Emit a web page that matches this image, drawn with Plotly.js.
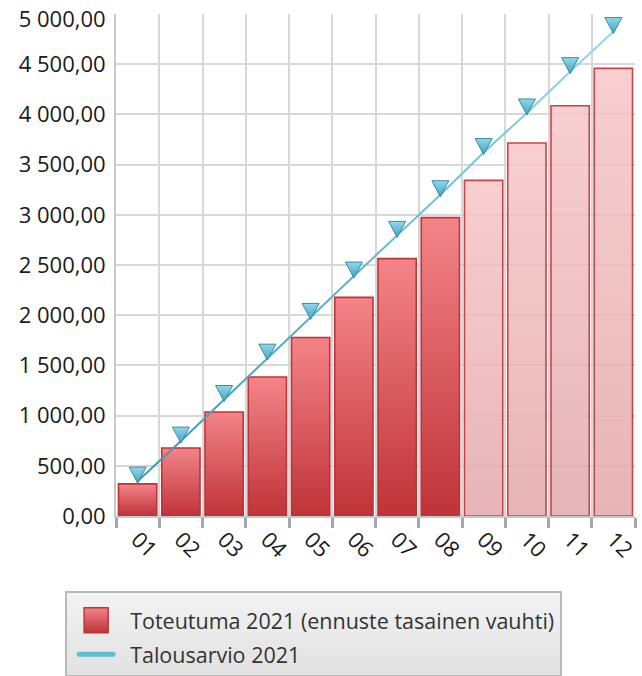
<!DOCTYPE html>
<html>
<head>
<meta charset="utf-8">
<script src="https://cdn.plot.ly/plotly-3.0.1.min.js"></script>
<style>
  html, body { margin: 0; padding: 0; background: #ffffff; overflow: hidden; }
  #chart { width: 642px; height: 676px; }
</style>
</head>
<body>
<div id="chart"></div>
<script>
// ---- data ----
const months = ['01','02','03','04','05','06','07','08','09','10','11','12'];
const actual = [320, 677, 1036, 1385, 1778, 2178, 2563, 2972, 3343, 3715, 4086, 4458];
const budget = [347, 746, 1160, 1572, 1978, 2390, 2795, 3200, 3620, 4014, 4426, 4825];
const forecastFrom = '09';   // months from here on are forecast (flat pace)
const actualName = 'Toteutuma 2021 (ennuste tasainen vauhti)';
const budgetName = 'Talousarvio 2021';

const FONT = '"Open Sans", "Noto Sans", sans-serif';
const forecastIdx = months.indexOf(forecastFrom);

const barTrace = {
  type: 'bar',
  name: actualName,
  x: months,
  y: actual,
  width: 0.885,
  marker: {
    color: months.map((m, i) => i < forecastIdx ? '#de5a5e' : '#f2c0c2'),
    line: { color: '#c0383c', width: 1.6 }
  },
  hoverinfo: 'skip',
  legendgroup: 'a'
};

const lineTrace = {
  type: 'scatter',
  mode: 'lines',
  name: budgetName,
  x: months,
  y: budget,
  line: { color: '#5bb8d2', width: 2 },
  hoverinfo: 'skip',
  legendgroup: 'b'
};

const markerTrace = {
  type: 'scatter',
  mode: 'markers',
  name: budgetName,
  x: months,
  y: budget,
  showlegend: false,
  marker: { symbol: 'triangle-down', size: 15, color: '#6cc4dc', line: { color: '#3a8aa4', width: 1 } },
  hoverinfo: 'skip'
};

const layout = {
  width: 642,
  height: 676,
  margin: { l: 116, r: 7, t: 14, b: 160, autoexpand: false },
  paper_bgcolor: '#ffffff',
  plot_bgcolor: '#ffffff',
  separators: ', ',
  font: { family: FONT, size: 22, color: '#1a1a1a' },
  showlegend: true,
  bargap: 0.115,
  xaxis: {
    type: 'category',
    range: [-0.5, months.length - 0.5],
    tickson: 'boundaries',
    ticks: 'outside',
    ticklen: 10,
    tickwidth: 3,
    tickcolor: '#a4a8ac',
    tickangle: 45,
    tickfont: { family: FONT, size: 22, color: '#1a1a1a' },
    showgrid: true,
    gridcolor: '#d8d8d8',
    gridwidth: 2,
    showline: true,
    linecolor: '#c8c8c8',
    linewidth: 2,
    zeroline: false,
    automargin: false,
    fixedrange: true
  },
  yaxis: {
    range: [0, 5000],
    dtick: 500,
    tick0: 0,
    tickformat: ',.2f',
    ticks: '',
    ticklen: 0,
    ticklabelstandoff: 4,
    ticklabeloverflow: 'allow',
    tickfont: { family: FONT, size: 22, color: '#1a1a1a' },
    showgrid: true,
    gridcolor: '#d8d8d8',
    gridwidth: 2,
    showline: true,
    linecolor: '#c8c8c8',
    linewidth: 2,
    zeroline: false,
    automargin: false,
    fixedrange: true
  },
  legend: {
    x: -0.098,
    xanchor: 'left',
    y: -0.163,
    yanchor: 'top',
    orientation: 'v',
    bgcolor: '#ebebeb',
    bordercolor: '#b8b8b8',
    borderwidth: 2,
    font: { family: FONT, size: 21.5, color: '#333333' },
    traceorder: 'grouped',
    tracegroupgap: 3,
    itemwidth: 53
  }
};

const gd = document.getElementById('chart');
Plotly.newPlot(gd, [barTrace, lineTrace, markerTrace], layout, { staticPlot: true, displayModeBar: false }).then(function () {
  const NS = 'http://www.w3.org/2000/svg';
  const svg = gd.querySelector('.main-svg');
  let defs = svg.querySelector('defs');
  if (!defs) { defs = document.createElementNS(NS, 'defs'); svg.insertBefore(defs, svg.firstChild); }
  function grad(id, stops) {
    const g = document.createElementNS(NS, 'linearGradient');
    g.setAttribute('id', id);
    g.setAttribute('x1', '0'); g.setAttribute('y1', '0');
    g.setAttribute('x2', '0'); g.setAttribute('y2', '1');
    stops.forEach(function (s) {
      const st = document.createElementNS(NS, 'stop');
      st.setAttribute('offset', s[0]);
      st.setAttribute('stop-color', s[1]);
      if (s[2] !== undefined) st.setAttribute('stop-opacity', s[2]);
      g.appendChild(st);
    });
    defs.appendChild(g);
  }
  grad('gSolid', [[0, '#f48488'], [1, '#bf3338']]);
  grad('gPink', [[0, '#f7c6c8', 0.85], [1, '#e2a8aa', 0.85]]);
  grad('gLine', [[0, '#8ad8ec'], [1, '#3a98b0']]);
  grad('gMarker', [[0, '#90d8ec'], [1, '#43a2be']]);
  grad('gLegend', [[0, '#f3f3f3'], [1, '#e1e1e1']]);

  // keep the top y tick label inside the picture (as in the reference)
  gd.querySelectorAll('.ytick text').forEach(function (t) {
    const r = t.getBoundingClientRect();
    if (r.top < 2) {
      const prev = t.getAttribute('transform') || '';
      t.setAttribute('transform', prev + ' translate(0,' + (3 - r.top) + ')');
    }
  });

  // bars
  const barPaths = gd.querySelectorAll('.barlayer .point path');
  barPaths.forEach(function (p, i) {
    p.style.fill = i < forecastIdx ? 'url(#gSolid)' : 'url(#gPink)';
    p.style.fillOpacity = 1;
    p.style.stroke = i < forecastIdx ? '#bc3438' : '#c8444a';
  });

  // line + markers
  const scTraces = gd.querySelectorAll('.scatterlayer .trace');
  scTraces.forEach(function (t) {
    t.querySelectorAll('.js-line').forEach(function (l) { l.style.stroke = 'url(#gLine)'; });
    t.querySelectorAll('.points path').forEach(function (m) {
      m.setAttribute('d', 'M-8.5,-14H8.5L0,2Z');
      m.style.fill = 'url(#gMarker)';
    });
  });

  // legend
  const bg = gd.querySelector('.legend .bg');
  let bgLeft = 0;
  if (bg) {
    bg.style.fill = 'url(#gLegend)';
    const extra = 7;
    const y0 = parseFloat(bg.getAttribute('y') || '0');
    const h0 = parseFloat(bg.getAttribute('height') || '0');
    bg.setAttribute('y', y0 - extra);
    bg.setAttribute('height', h0 + extra);
    bgLeft = bg.getBoundingClientRect().left;
  }
  const legTraces = gd.querySelectorAll('.legend .traces');
  function shiftTo(p, targetCx) {
    const r = p.getBoundingClientRect();
    const cx = r.left + r.width / 2;
    const prev = p.getAttribute('transform') || '';
    p.setAttribute('transform', prev + ' translate(' + (targetCx - cx) + ',0)');
  }
  if (legTraces[0]) {
    legTraces[0].querySelectorAll('.legendpoints path').forEach(function (p) {
      p.setAttribute('d', 'M12,12.5H-12V-12.5H12Z');
      p.style.fill = 'url(#gSolid)';
      p.style.stroke = '#bc3438';
      p.style.strokeWidth = '1.5px';
      shiftTo(p, bgLeft + 30);
    });
  }
  if (legTraces[1]) {
    legTraces[1].querySelectorAll('.legendlines path').forEach(function (p) {
      p.setAttribute('d', 'M-17,0h34');
      p.style.stroke = '#5ebcd6';
      p.style.strokeWidth = '5px';
      p.style.strokeLinecap = 'round';
      shiftTo(p, bgLeft + 30);
    });
  }
});
</script>
</body>
</html>
